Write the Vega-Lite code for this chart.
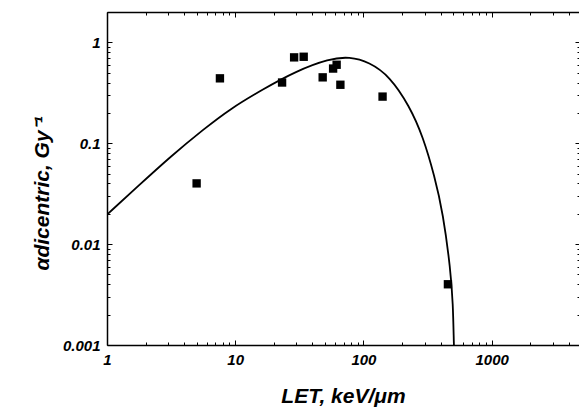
{
  "$schema": "https://vega.github.io/schema/vega-lite/v6.json",
  "width": 472,
  "height": 333,
  "autosize": "none",
  "padding": {"left": 107, "top": 12, "right": 0, "bottom": 64},
  "background": "white",
  "config": {
    "view": {"stroke": null},
    "axis": {
      "labelFont": "Liberation Sans",
      "titleFont": "Liberation Sans",
      "labelFontStyle": "italic",
      "labelFontWeight": "bold",
      "titleFontStyle": "italic",
      "titleFontWeight": "bold",
      "labelColor": "black",
      "titleColor": "black",
      "domainColor": "black",
      "domainWidth": 1.5,
      "tickColor": "black",
      "tickWidth": 1,
      "grid": false,
      "labelFontSize": 15,
      "titleFontSize": 21
    }
  },
  "datasets": {
    "points": [
      {"LET": 5, "alpha": 0.04},
      {"LET": 7.6, "alpha": 0.44},
      {"LET": 23.2, "alpha": 0.40},
      {"LET": 28.8, "alpha": 0.71},
      {"LET": 34.2, "alpha": 0.72},
      {"LET": 48.1, "alpha": 0.45},
      {"LET": 58, "alpha": 0.55},
      {"LET": 61.8, "alpha": 0.60},
      {"LET": 66.1, "alpha": 0.38},
      {"LET": 141, "alpha": 0.29},
      {"LET": 456, "alpha": 0.004}
    ],
    "curve": [
      {"LET": 1, "alpha": 0.0196},
      {"LET": 1.72, "alpha": 0.0369},
      {"LET": 3.15, "alpha": 0.0745},
      {"LET": 5.73, "alpha": 0.139},
      {"LET": 8.98, "alpha": 0.216},
      {"LET": 16.3, "alpha": 0.341},
      {"LET": 29.8, "alpha": 0.519},
      {"LET": 54.2, "alpha": 0.689},
      {"LET": 77.8, "alpha": 0.721},
      {"LET": 111, "alpha": 0.638},
      {"LET": 160, "alpha": 0.463},
      {"LET": 229, "alpha": 0.233},
      {"LET": 291, "alpha": 0.117},
      {"LET": 359, "alpha": 0.047},
      {"LET": 417, "alpha": 0.0204},
      {"LET": 478, "alpha": 0.00557},
      {"LET": 499, "alpha": 0.0026},
      {"LET": 507, "alpha": 0.00105},
      {"LET": 508, "alpha": 0.001}
    ]
  },
  "layer": [
    {
      "data": {"name": "curve"},
      "mark": {"type": "line", "color": "black", "strokeWidth": 1.8, "interpolate": "basis", "clip": true},
      "encoding": {
        "x": {
          "field": "LET", "type": "quantitative",
          "scale": {"type": "log", "domain": [1, 4800], "nice": false},
          "axis": {
            "orient": "bottom",
            "title": "LET, keV/μm",
            "titlePadding": 16,
            "values": [1,2,3,4,5,6,7,8,9,10,20,30,40,50,60,70,80,90,100,200,300,400,500,600,700,800,900,1000,2000,3000,4000],
            "format": "~g",
            "labelExpr": "abs(log(datum.value)/LN10 - round(log(datum.value)/LN10)) < 0.001 ? datum.label : ''",
            "tickSize": {"condition": {"test": "abs(log(datum.value)/LN10 - round(log(datum.value)/LN10)) < 0.001", "value": -5}, "value": -3},
            "labelPadding": 12,
            "labelFlush": false,
            "labelOverlap": false
          }
        },
        "y": {
          "field": "alpha", "type": "quantitative",
          "scale": {"type": "log", "domain": [0.001, 2], "nice": false},
          "axis": {
            "orient": "left",
            "title": "αdicentric, Gy⁻¹",
            "titlePadding": 10,
            "titleY": 181,
            "values": [0.001,0.002,0.003,0.004,0.005,0.006,0.007,0.008,0.009,0.01,0.02,0.03,0.04,0.05,0.06,0.07,0.08,0.09,0.1,0.2,0.3,0.4,0.5,0.6,0.7,0.8,0.9,1,2],
            "format": "~g",
            "labelExpr": "abs(log(datum.value)/LN10 - round(log(datum.value)/LN10)) < 0.001 ? datum.label : ''",
            "tickSize": {"condition": {"test": "abs(log(datum.value)/LN10 - round(log(datum.value)/LN10)) < 0.001", "value": -5}, "value": -3},
            "labelPadding": 12,
            "labelOverlap": false,
            "labelFlush": false
          }
        }
      }
    },
    {
      "data": {"name": "points"},
      "mark": {"type": "square", "size": 70, "color": "black", "opacity": 1},
      "encoding": {
        "x": {
          "field": "LET", "type": "quantitative",
          "axis": {
            "orient": "top", "title": null, "labels": false,
            "values": [1,2,3,4,5,6,7,8,9,10,20,30,40,50,60,70,80,90,100,200,300,400,500,600,700,800,900,1000,2000,3000,4000],
            "tickSize": {"condition": {"test": "abs(log(datum.value)/LN10 - round(log(datum.value)/LN10)) < 0.001", "value": -5}, "value": -3}
          }
        },
        "y": {
          "field": "alpha", "type": "quantitative",
          "axis": {
            "orient": "right", "title": null, "labels": false, "domain": false,
            "values": [0.001,0.002,0.003,0.004,0.005,0.006,0.007,0.008,0.009,0.01,0.02,0.03,0.04,0.05,0.06,0.07,0.08,0.09,0.1,0.2,0.3,0.4,0.5,0.6,0.7,0.8,0.9,1,2],
            "tickSize": {"condition": {"test": "abs(log(datum.value)/LN10 - round(log(datum.value)/LN10)) < 0.001", "value": -4}, "value": -2}
          }
        }
      }
    }
  ],
  "resolve": {"axis": {"x": "independent", "y": "independent"}}
}
